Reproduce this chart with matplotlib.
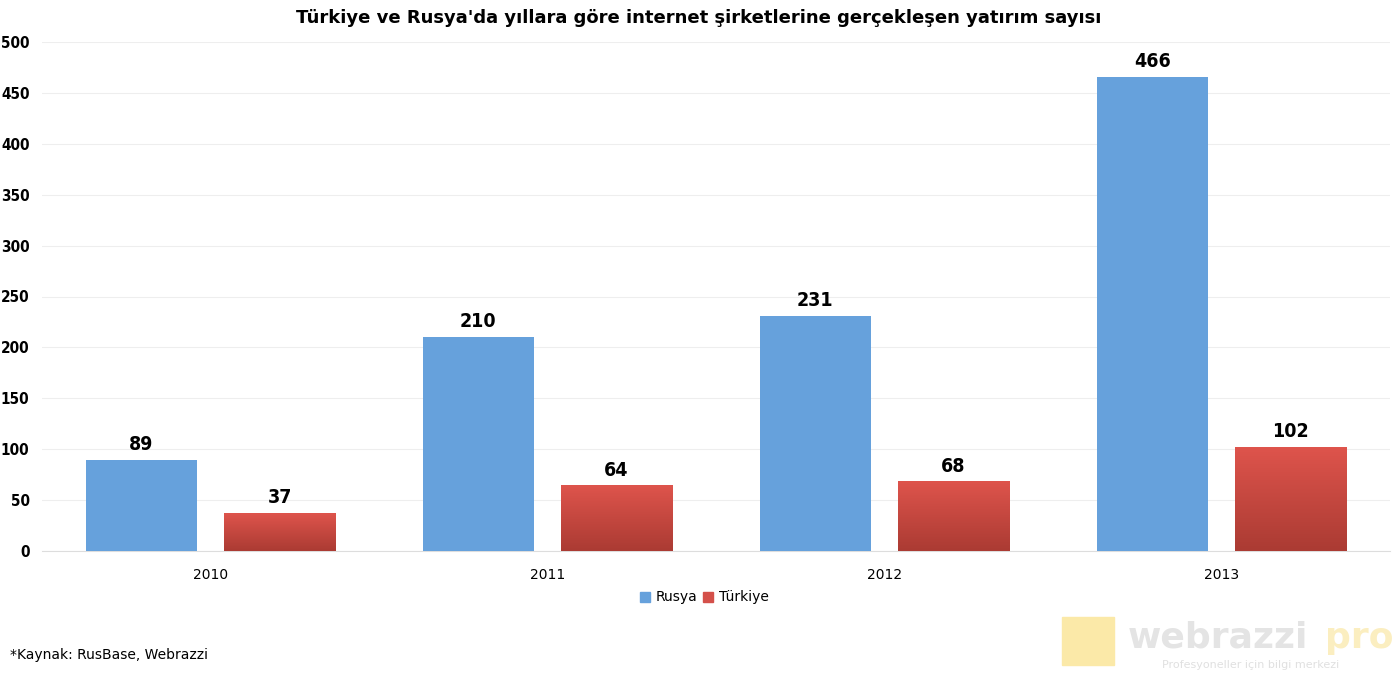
import matplotlib
matplotlib.use("Agg")
import matplotlib.pyplot as plt
import numpy as np

years = ["2010", "2011", "2012", "2013"]
rusya = [89, 210, 231, 466]
turkiye = [37, 64, 68, 102]

fig = plt.figure(figsize=(13.98, 6.75), dpi=100)
ax = fig.add_axes([42/1398, 1-551/675, (1390-42)/1398, (551-42)/675])
x = np.arange(len(years))
w = 0.33
b1 = ax.bar(x - 0.205, rusya, w, color="#66a1dc", zorder=3)
b2 = ax.bar(x + 0.205, turkiye, w, color="#d4504a", zorder=3)
grad = np.linspace(0, 1, 100).reshape(-1, 1)
from matplotlib.colors import LinearSegmentedColormap
cm = LinearSegmentedColormap.from_list("r", ["#de544c", "#ab3b33"])
for p in b2:
    x0, y0 = p.get_x(), p.get_y()
    ax.imshow(grad, cmap=cm, aspect="auto", extent=[x0, x0 + p.get_width(), y0, y0 + p.get_height()], origin="upper", zorder=4)
for bars, vals in ((b1, rusya), (b2, turkiye)):
    for p, v in zip(bars, vals):
        ax.text(p.get_x() + p.get_width()/2, v + 6, str(v), ha="center", va="bottom",
                fontsize=14, fontweight="bold", fontstretch="condensed", family="DejaVu Sans", zorder=5)
ax.set_xlim(-0.5, 3.5)
ax.set_ylim(0, 500)
ax.set_yticks(range(0, 501, 50))
ax.set_xticks(x)
ax.set_xticklabels(years, fontsize=10)
for lab in ax.get_yticklabels():
    lab.set_fontsize(11); lab.set_fontweight("bold"); lab.set_fontstretch("condensed")
ax.grid(axis="y", color="#eeeeee", lw=0.8, zorder=0)
for s in ["top", "right", "left"]:
    ax.spines[s].set_visible(False)
ax.spines["bottom"].set_color("#dddddd")
ax.tick_params(axis="y", length=0, pad=9)
ax.tick_params(axis="x", length=0, pad=12)
fig.text(0.5, 1-18/675, "Türkiye ve Rusya'da yıllara göre internet şirketlerine gerçekleşen yatırım sayısı",
         ha="center", va="center", fontsize=13, fontweight="bold")
from matplotlib.patches import Rectangle
fig.patches.append(Rectangle((640/1398, 1-602/675), 10/1398, 10/675, color="#66a1dc", transform=fig.transFigure))
fig.text(656/1398, 1-597/675, "Rusya", va="center", fontsize=10)
fig.patches.append(Rectangle((703/1398, 1-602/675), 10/1398, 10/675, color="#d4504a", transform=fig.transFigure))
fig.text(719/1398, 1-597/675, "Türkiye", va="center", fontsize=10)
fig.text(10/1398, 1-655/675, "*Kaynak: RusBase, Webrazzi", va="center", fontsize=10)
fig.text(1128/1398, 1-638/675, "webrazzi", va="center", fontsize=26, fontweight="bold", color="#e4e4e4")
fig.text(1393/1398, 1-638/675, "pro", va="center", ha="right", fontsize=26, fontweight="bold", color="#fbeec0")
fig.text(1162/1398, 1-665/675, "Profesyoneller için bilgi merkezi", va="center", fontsize=8, color="#e0e0e0")
fig.patches.append(Rectangle((1062/1398, 1-665/675), 52/1398, 48/675, color="#fbe9a8", transform=fig.transFigure))
fig.savefig("out.png", dpi=100)
